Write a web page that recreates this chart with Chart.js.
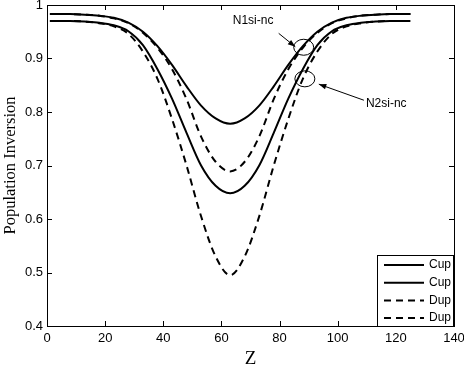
<!DOCTYPE html>
<html>
<head>
<meta charset="utf-8">
<script src="https://cdn.jsdelivr.net/npm/chart.js@4.4.1/dist/chart.umd.min.js"></script>
<style>
  body { margin: 0; background: #fff; }
</style>
</head>
<body>
<canvas id="myChart" width="464" height="370"></canvas>
<script>
// z positions along the device
const zValues = [1, 3, 8, 13, 18, 23, 28, 33, 38, 43, 48, 53, 58, 63, 68, 73, 78, 83, 88, 93, 98, 103, 108, 113, 118, 123, 125];

// population inversion curves
const cupUpper = [0.983, 0.983, 0.983, 0.982, 0.980, 0.976, 0.967, 0.950, 0.923, 0.888, 0.848, 0.812, 0.788, 0.778, 0.788, 0.812, 0.848, 0.888, 0.923, 0.950, 0.967, 0.976, 0.980, 0.982, 0.983, 0.983, 0.983];
const cupLower = [0.970, 0.970, 0.970, 0.969, 0.967, 0.962, 0.951, 0.925, 0.880, 0.825, 0.761, 0.700, 0.662, 0.648, 0.662, 0.700, 0.761, 0.825, 0.880, 0.925, 0.951, 0.962, 0.967, 0.969, 0.970, 0.970, 0.970];
const dupUpper = [0.983, 0.983, 0.983, 0.982, 0.980, 0.975, 0.966, 0.948, 0.920, 0.880, 0.824, 0.754, 0.707, 0.689, 0.707, 0.754, 0.824, 0.880, 0.920, 0.948, 0.966, 0.975, 0.980, 0.982, 0.983, 0.983, 0.983];
const dupLower = [0.970, 0.970, 0.970, 0.969, 0.966, 0.960, 0.946, 0.913, 0.862, 0.787, 0.700, 0.605, 0.530, 0.495, 0.530, 0.605, 0.700, 0.787, 0.862, 0.913, 0.946, 0.960, 0.966, 0.969, 0.970, 0.970, 0.970];

const seriesLabels = ['Cup', 'Cup', 'Dup', 'Dup'];
const xTicks = [0, 20, 40, 60, 80, 100, 120, 140];
const yTicks = [0.4, 0.5, 0.6, 0.7, 0.8, 0.9, 1];

const sansFont = "'Liberation Sans', Arial, sans-serif";
const serifFont = "'Liberation Serif', 'Times New Roman', serif";

function toPoints(ys) {
    return zValues.map((z, i) => ({ x: z, y: ys[i] }));
}

function lineSet(label, ys, dashed) {
    return {
        label: label,
        data: toPoints(ys),
        borderColor: '#000',
        borderWidth: 2,
        borderDash: dashed ? [7, 5] : [],
        pointRadius: 0,
        fill: false,
        cubicInterpolationMode: 'monotone'
    };
}

// box, inward ticks, legend and the two call-outs
const matlabFrame = {
    id: 'matlabFrame',
    afterDatasetsDraw(chart) {
        const c = chart.ctx;
        const a = chart.chartArea;
        const xs = chart.scales.x;
        const ys = chart.scales.y;
        c.save();
        c.strokeStyle = '#000';
        c.lineWidth = 1;
        c.setLineDash([]);
        c.strokeRect(a.left + 0.5, a.top + 0.5, a.right - a.left, a.bottom - a.top);
        c.beginPath();
        xTicks.forEach(v => {
            const px = Math.round(xs.getPixelForValue(v)) + 0.5;
            c.moveTo(px, a.bottom); c.lineTo(px, a.bottom - 5);
            c.moveTo(px, a.top); c.lineTo(px, a.top + 5);
        });
        yTicks.forEach(v => {
            const py = Math.round(ys.getPixelForValue(v)) + 0.5;
            c.moveTo(a.left, py); c.lineTo(a.left + 5, py);
            c.moveTo(a.right, py); c.lineTo(a.right - 5, py);
        });
        c.stroke();

        // call-outs
        c.font = '12px ' + sansFont;
        c.fillStyle = '#000';
        c.textAlign = 'center';
        c.textBaseline = 'middle';
        const ell = (x, y) => {
            c.beginPath();
            c.ellipse(xs.getPixelForValue(x), ys.getPixelForValue(y), 10, 8, 0, 0, Math.PI * 2);
            c.stroke();
        };
        const arrow = (x0, y0, x1, y1) => {
            const ax = xs.getPixelForValue(x0), ay = ys.getPixelForValue(y0);
            const bx = xs.getPixelForValue(x1), by = ys.getPixelForValue(y1);
            const ang = Math.atan2(by - ay, bx - ax);
            c.beginPath();
            c.moveTo(ax, ay); c.lineTo(bx, by);
            c.stroke();
            c.beginPath();
            c.moveTo(bx, by);
            c.lineTo(bx - 8 * Math.cos(ang - 0.35), by - 8 * Math.sin(ang - 0.35));
            c.lineTo(bx - 8 * Math.cos(ang + 0.35), by - 8 * Math.sin(ang + 0.35));
            c.closePath();
            c.fill();
        };
        ell(88.3, 0.921);
        ell(88.7, 0.862);
        c.fillText('N1si-nc', xs.getPixelForValue(70.9), ys.getPixelForValue(0.970));
        c.fillText('N2si-nc', xs.getPixelForValue(116.7), ys.getPixelForValue(0.815));
        arrow(79.7, 0.947, 85.4, 0.922);
        arrow(109, 0.822, 93.5, 0.852);

        // legend in the lower right corner
        const bw = 77, bh = 72;
        const bx = a.right - bw, by = a.bottom - bh + 1;
        c.fillStyle = '#fff';
        c.fillRect(bx, by, bw, bh);
        c.strokeRect(bx + 0.5, by + 0.5, bw - 1, bh - 1);
        c.textAlign = 'left';
        chart.data.datasets.forEach((ds, i) => {
            const ry = by + 10 + i * 17.7;
            c.lineWidth = 2;
            c.setLineDash(ds.borderDash);
            c.beginPath();
            c.moveTo(bx + 7, ry); c.lineTo(bx + 47, ry);
            c.stroke();
            c.setLineDash([]);
            c.fillStyle = '#000';
            c.fillText(ds.label, bx + 52, ry);
        });
        c.restore();
    }
};

const ctx = document.getElementById('myChart').getContext('2d');
const myChart = new Chart(ctx, {
    type: 'line',
    data: {
        datasets: [
            lineSet(seriesLabels[0], cupUpper, false),
            lineSet(seriesLabels[1], cupLower, false),
            lineSet(seriesLabels[2], dupUpper, true),
            lineSet(seriesLabels[3], dupLower, true)
        ]
    },
    options: {
        responsive: false,
        animation: false,
        layout: { padding: { top: 5, right: 10, left: 0, bottom: 0 } },
        plugins: {
            legend: { display: false },
            tooltip: { enabled: false }
        },
        scales: {
            x: {
                type: 'linear',
                min: 0,
                max: 140,
                afterFit: s => { s.height = 44; s.paddingLeft = 0; s.paddingRight = 0; },
                afterBuildTicks: s => { s.ticks = xTicks.map(v => ({ value: v })); },
                grid: { display: false, drawTicks: false },
                border: { display: false },
                ticks: { color: '#000', padding: 5, font: { family: sansFont, size: 13 } },
                title: { display: true, text: 'Z', color: '#000', padding: 0, font: { family: serifFont, size: 19 } }
            },
            y: {
                min: 0.4,
                max: 1,
                afterFit: s => { s.width = 47; s.paddingTop = 0; s.paddingBottom = 0; },
                afterBuildTicks: s => { s.ticks = yTicks.map(v => ({ value: v })); },
                grid: { display: false, drawTicks: false },
                border: { display: false },
                ticks: {
                    color: '#000',
                    padding: 4,
                    font: { family: sansFont, size: 13 },
                    callback: v => String(Math.round(v * 10) / 10)
                },
                title: { display: true, text: 'Population Inversion', color: '#000', padding: 1, font: { family: serifFont, size: 16.5 } }
            }
        }
    },
    plugins: [matlabFrame]
});
</script>
</body>
</html>
